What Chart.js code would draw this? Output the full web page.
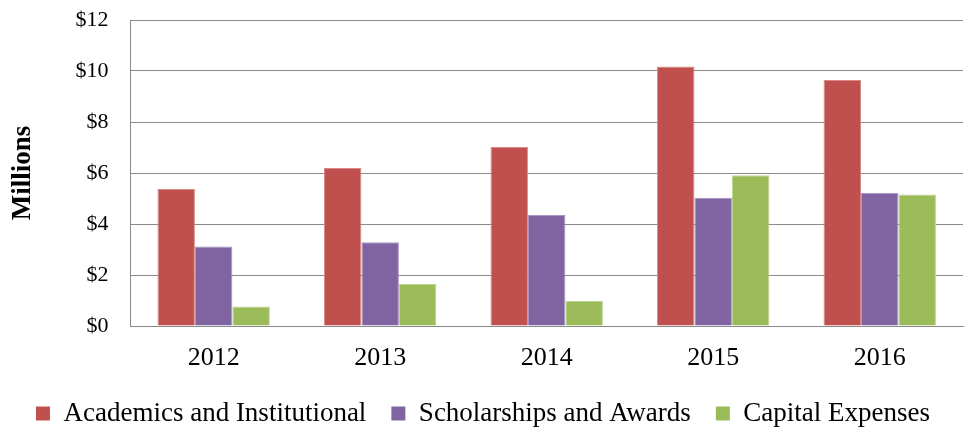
<!DOCTYPE html>
<html>
<head>
<meta charset="utf-8">
<script src="https://cdn.jsdelivr.net/npm/chart.js@4"></script>
<style>
  html, body { margin: 0; padding: 0; background: #fff; }
  #wrap { width: 964px; height: 429px; }
</style>
</head>
<body>
<div id="wrap"><canvas id="fundChart" width="964" height="429"></canvas></div>
<script>
let years = ['2012', '2013', '2014', '2015', '2016'];
let academics = [5.37, 6.2, 7.02, 10.18, 9.65];
let scholarships = [3.12, 3.28, 4.35, 5.03, 5.23];
let capital = [0.76, 1.65, 0.98, 5.91, 5.16];
let yTicks = [0, 2, 4, 6, 8, 10, 12];

let serif = '"Liberation Serif", "Times New Roman", serif';

var fundChart = document.getElementById('fundChart');
var myChart = new Chart(fundChart, {
    type: 'bar',
    data: {
        labels: years,
        datasets: [{
            label: 'Academics and Institutional',
            data: academics,
            backgroundColor: '#C0504D',
            borderColor: '#d98a88'
        }, {
            label: 'Scholarships and Awards',
            data: scholarships,
            backgroundColor: '#8064A2',
            borderColor: '#a996c2'
        }, {
            label: 'Capital Expenses',
            data: capital,
            backgroundColor: '#9BBB59',
            borderColor: '#bcd495'
        }]
    },
    options: {
        responsive: false,
        animation: false,
        layout: { padding: { top: 20, right: 1, left: 3, bottom: 0 } },
        datasets: {
            bar: { categoryPercentage: 0.675, barPercentage: 1, borderWidth: 1 }
        },
        plugins: {
            legend: {
                position: 'bottom',
                maxHeight: 54,
                labels: {
                    font: { family: serif, size: 27 },
                    color: '#000',
                    boxWidth: 14,
                    boxHeight: 14,
                    padding: 25,
                    generateLabels: (chart) => {
                        // keep legend boxes solid, without the bar edge colour
                        let items = Chart.defaults.plugins.legend.labels.generateLabels(chart);
                        items.forEach(it => { it.strokeStyle = it.fillStyle; it.lineWidth = 0; });
                        return items;
                    }
                }
            },
            tooltip: { enabled: false }
        },
        scales: {
            x: {
                grid: { display: false },
                border: { display: true, color: '#8a8a8a', width: 1 },
                ticks: {
                    font: { family: serif, size: 26 },
                    color: '#000',
                    padding: 9
                },
                afterFit: (scale) => { scale.height = 49; }
            },
            y: {
                min: 0,
                max: 12,
                afterBuildTicks: (axis) => { axis.ticks = yTicks.map(v => ({ value: v })); },
                afterFit: (scale) => { scale.paddingTop = 0; },
                grid: { color: '#8a8a8a', lineWidth: 1, drawTicks: false },
                border: { display: true, color: '#8a8a8a', width: 1 },
                ticks: {
                    font: { family: serif, size: 22 },
                    color: '#000',
                    padding: 22,
                    callback: (v) => '$' + v
                },
                title: {
                    display: true,
                    text: 'Millions',
                    font: { family: serif, size: 27, weight: 'bold' },
                    color: '#000',
                    padding: { bottom: 14 }
                }
            }
        }
    }
});
</script>
</body>
</html>
